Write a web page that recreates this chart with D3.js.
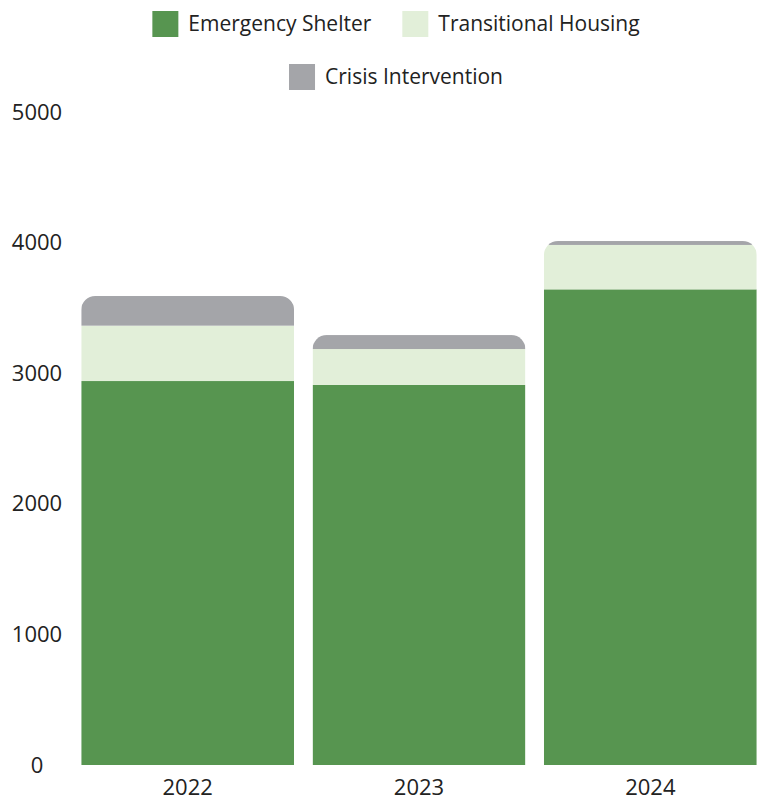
<!DOCTYPE html>
<html><head><meta charset="utf-8">
<script src="https://cdn.jsdelivr.net/npm/d3@7"></script>
<style>body{margin:0;background:#fff;} text{font-family:"Open Sans",sans-serif;}</style>
</head><body><svg id="c" width="764" height="800"></svg>
<script>
const years = ["2022","2023","2024"];
const seriesNames = ["Emergency Shelter","Transitional Housing","Crisis Intervention"];
const emergencyShelter = [2940, 2910, 3642];
const transitionalHousing = [424, 275, 340];
const crisisIntervention = [227, 107, 30];
const yTicks = [0,1000,2000,3000,4000,5000];
const colors = ["#579550","#e2efd9","#a4a5a9"];

const svg = d3.select("#c");
const data = years.map((y,i)=>({year:y, "Emergency Shelter":emergencyShelter[i], "Transitional Housing":transitionalHousing[i], "Crisis Intervention":crisisIntervention[i]}));
const stack = d3.stack().keys(seriesNames)(data);

const x = d3.scaleBand().domain(years).range([72,766]).paddingInner(0.08).paddingOuter(0.04);
const y = d3.scaleLinear().domain([0,5000]).range([765,112]);
const color = d3.scaleOrdinal().domain(seriesNames).range(colors);

const r = 14;
const defs = svg.append("defs");
data.forEach((d,i)=>{
  const total = emergencyShelter[i]+transitionalHousing[i]+crisisIntervention[i];
  const x0 = x(d.year), w = x.bandwidth(), yt = y(total), yb = y(0);
  const p = d3.path();
  p.moveTo(x0, yb);
  p.lineTo(x0, yt + r);
  p.arcTo(x0, yt, x0 + r, yt, r);
  p.lineTo(x0 + w - r, yt);
  p.arcTo(x0 + w, yt, x0 + w, yt + r, r);
  p.lineTo(x0 + w, yb);
  p.closePath();
  defs.append("clipPath").attr("id","clip"+i).append("path").attr("d", p.toString());
});

const g = svg.append("g");
years.forEach((yr,i)=>{
  const bg = g.append("g").attr("clip-path","url(#clip"+i+")");
  stack.forEach(s=>{
    const seg = s[i];
    bg.append("rect")
      .attr("x", x(yr)).attr("width", x.bandwidth())
      .attr("y", y(seg[1])).attr("height", y(seg[0]) - y(seg[1]))
      .attr("fill", color(s.key));
  });
});

// Y axis labels
const yAxis = svg.append("g").attr("transform","translate(37,0)")
  .call(d3.axisLeft(y).tickValues(yTicks).tickSize(0).tickFormat(d3.format("d")));
yAxis.select(".domain").remove();
yAxis.selectAll("text").attr("x",0).attr("text-anchor","middle").attr("font-size","22px").attr("fill","#222").attr("font-family","Open Sans");

// X axis labels
const xAxis = svg.append("g").attr("transform","translate(0,765)")
  .call(d3.axisBottom(x).tickSize(0));
xAxis.select(".domain").remove();
xAxis.selectAll("text").attr("y",14).attr("font-size","22px").attr("fill","#222").attr("font-family","Open Sans");

// Legend
const leg = svg.append("g");
const rows = [[{n:seriesNames[0],c:colors[0]},{n:seriesNames[1],c:colors[1]}],[{n:seriesNames[2],c:colors[2]}]];
const rowY = [24, 77];
rows.forEach((row,ri)=>{
  const rg = leg.append("g");
  let cx = 0;
  row.forEach((it,k)=>{
    const ig = rg.append("g").attr("transform","translate("+cx+",0)");
    ig.append("rect").attr("x",0).attr("y",-13).attr("width",26).attr("height",26).attr("fill",it.c);
    const t = ig.append("text").attr("x",36).attr("y",0).attr("dy","0.35em").attr("font-size","21px").attr("fill","#222").text(it.n);
    cx += 36 + t.node().getComputedTextLength() + 31;
  });
  const total = cx - 31;
  rg.attr("transform","translate("+(396 - total/2)+","+rowY[ri]+")");
});
</script></body></html>
